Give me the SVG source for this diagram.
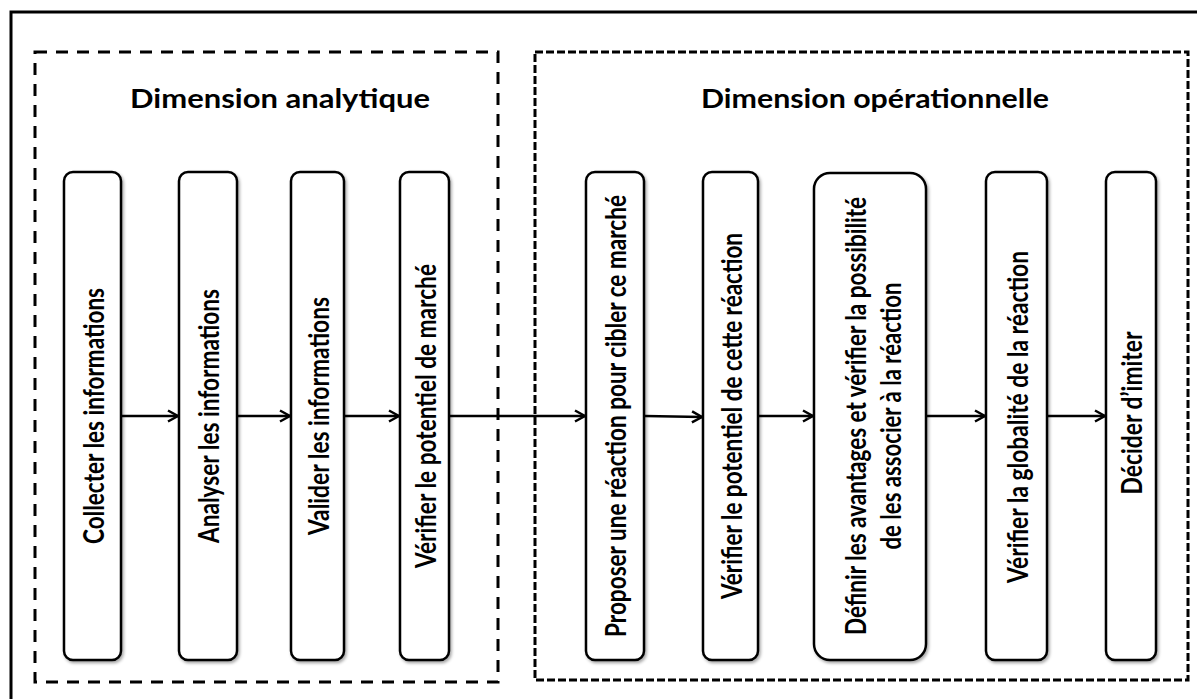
<svg xmlns="http://www.w3.org/2000/svg" width="1197" height="699" viewBox="0 0 1197 699">
<style>
.frame{fill:none;stroke:#000;stroke-width:3}
.grpA{fill:none;stroke:#000;stroke-width:3;stroke-dasharray:12 9}
.grpB{fill:none;stroke:#000;stroke-width:3;stroke-dasharray:8 3}
.box{fill:#fff;stroke:#000;stroke-width:2.5;filter:url(#sh)}
.title{font-family:Lato,"Open Sans","Liberation Sans",sans-serif;font-weight:bold;font-size:26px;fill:#000}
.lbl{font-family:Lato,"Open Sans","Liberation Sans",sans-serif;font-weight:bold;font-size:28px;fill:#000}
.conn{fill:none;stroke:#000;stroke-width:2.5}
</style>
<defs>
<filter id="sh" x="-20%" y="-5%" width="150%" height="115%">
<feDropShadow dx="1.5" dy="2" stdDeviation="1.5" flood-color="#000" flood-opacity="0.35"/>
</filter>
<marker id="arr" markerUnits="userSpaceOnUse" markerWidth="14" markerHeight="14" viewBox="0 0 14 14" refX="12" refY="7" orient="auto">
<path d="M2,1.5 L12,7 L2,12.5" fill="none" stroke="#000" stroke-width="2.5"/>
</marker>
</defs>
<rect width="1197" height="699" fill="#fff"/>
<rect class="frame" x="11" y="12" width="1200" height="700"/>
<g id="dimension-analytique">
<rect class="grpA" x="35" y="52" width="463" height="630"/>
<text class="title" x="280" y="108" text-anchor="middle" textLength="300" lengthAdjust="spacingAndGlyphs">Dimension analytique</text>
</g>
<g id="dimension-operationnelle">
<rect class="grpB" x="535" y="52" width="653" height="628"/>
<text class="title" x="875" y="108" text-anchor="middle" textLength="348" lengthAdjust="spacingAndGlyphs">Dimension opérationnelle</text>
</g>
<g id="connectors">
<line class="conn" x1="121" y1="416" x2="178" y2="416" marker-end="url(#arr)"/>
<line class="conn" x1="238" y1="416" x2="290" y2="416" marker-end="url(#arr)"/>
<line class="conn" x1="344" y1="416" x2="399" y2="416" marker-end="url(#arr)"/>
<line class="conn" x1="449" y1="416" x2="585" y2="416" marker-end="url(#arr)"/>
<line class="conn" x1="645" y1="416" x2="702" y2="417" marker-end="url(#arr)"/>
<line class="conn" x1="759" y1="416" x2="813" y2="416" marker-end="url(#arr)"/>
<line class="conn" x1="927" y1="416" x2="985" y2="416" marker-end="url(#arr)"/>
<line class="conn" x1="1048" y1="416" x2="1105" y2="416" marker-end="url(#arr)"/>
</g>
<g id="n1">
<rect class="box" x="64" y="172" width="57" height="488" rx="9"/>
<text class="lbl" transform="translate(93,416) rotate(-90)" text-anchor="middle" dominant-baseline="central" textLength="256" lengthAdjust="spacingAndGlyphs">Collecter les informations</text>
</g>
<g id="n2">
<rect class="box" x="179" y="172" width="58" height="488" rx="9"/>
<text class="lbl" transform="translate(208,416) rotate(-90)" text-anchor="middle" dominant-baseline="central" textLength="254" lengthAdjust="spacingAndGlyphs">Analyser les informations</text>
</g>
<g id="n3">
<rect class="box" x="291" y="172" width="53" height="488" rx="9"/>
<text class="lbl" transform="translate(318,416) rotate(-90)" text-anchor="middle" dominant-baseline="central" textLength="238" lengthAdjust="spacingAndGlyphs">Valider les informations</text>
</g>
<g id="n4">
<rect class="box" x="400" y="172" width="49" height="488" rx="9"/>
<text class="lbl" transform="translate(425,416) rotate(-90)" text-anchor="middle" dominant-baseline="central" textLength="304" lengthAdjust="spacingAndGlyphs">Vérifier le potentiel de marché</text>
</g>
<g id="n5">
<rect class="box" x="586" y="172" width="58" height="488" rx="9"/>
<text class="lbl" transform="translate(615,416) rotate(-90)" text-anchor="middle" dominant-baseline="central" textLength="442" lengthAdjust="spacingAndGlyphs">Proposer une réaction pour cibler ce marché</text>
</g>
<g id="n6">
<rect class="box" x="703" y="172" width="55" height="488" rx="9"/>
<text class="lbl" transform="translate(731,416) rotate(-90)" text-anchor="middle" dominant-baseline="central" textLength="366" lengthAdjust="spacingAndGlyphs">Vérifier le potentiel de cette réaction</text>
</g>
<g id="n7">
<rect class="box" x="814" y="173" width="112" height="487" rx="16"/>
<text class="lbl" transform="translate(855,416) rotate(-90)" text-anchor="middle" dominant-baseline="central" textLength="438" lengthAdjust="spacingAndGlyphs">Définir les avantages et vérifier la possibilité</text>
<text class="lbl" transform="translate(890,416) rotate(-90)" text-anchor="middle" dominant-baseline="central" textLength="267" lengthAdjust="spacingAndGlyphs">de les associer à la réaction</text>
</g>
<g id="n8">
<rect class="box" x="986" y="172" width="61" height="488" rx="9"/>
<text class="lbl" transform="translate(1017,417) rotate(-90)" text-anchor="middle" dominant-baseline="central" textLength="332" lengthAdjust="spacingAndGlyphs">Vérifier la globalité de la réaction</text>
</g>
<g id="n9">
<rect class="box" x="1106" y="172" width="50" height="488" rx="9"/>
<text class="lbl" transform="translate(1131,413) rotate(-90)" text-anchor="middle" dominant-baseline="central" textLength="163" lengthAdjust="spacingAndGlyphs">Décider d’imiter</text>
</g>
</svg>
